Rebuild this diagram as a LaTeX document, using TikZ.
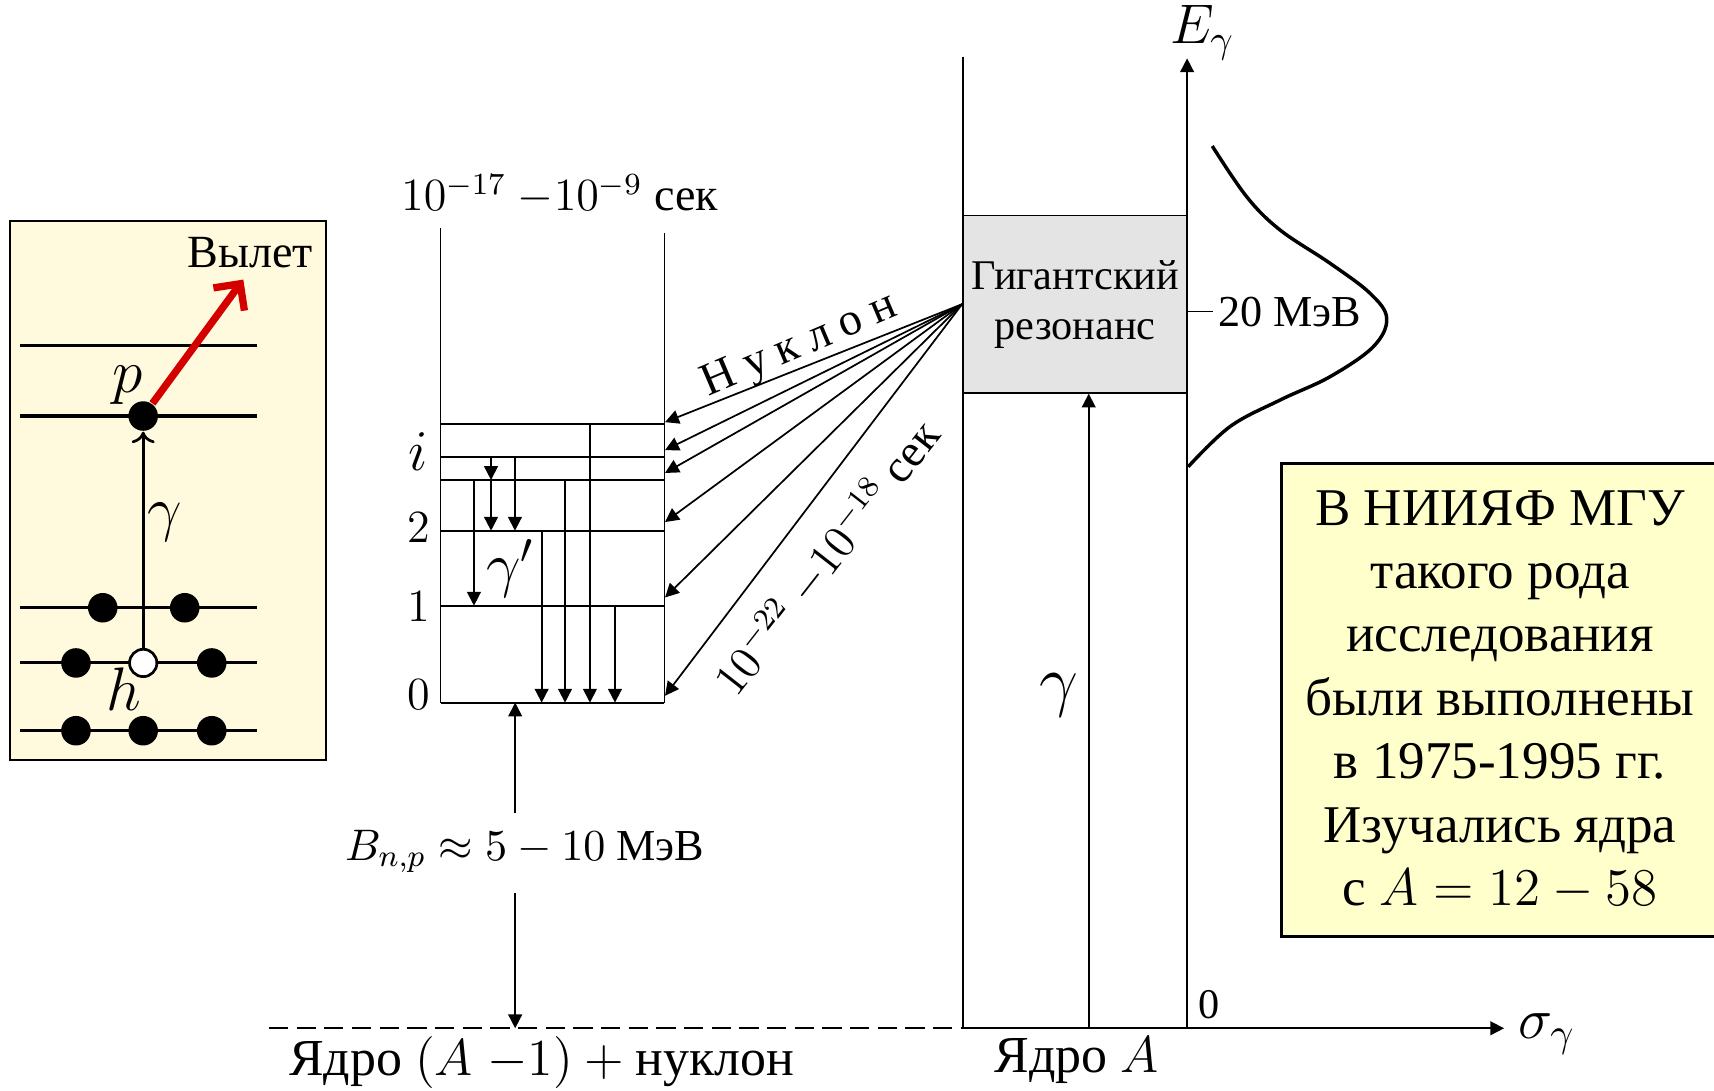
\RequirePackage{fix-cm}
\documentclass[tikz,border=0pt]{standalone}
\usepackage{fontspec}
\setmainfont{Liberation Serif}
\usetikzlibrary{arrows.meta,positioning}

\definecolor{gelblinks}{RGB}{255,250,222}
\definecolor{gelbrechts}{RGB}{255,255,204}
\definecolor{resgrau}{RGB}{228,228,228}
\definecolor{vrot}{RGB}{212,0,0}

\newcommand{\schrift}[2]{\fontsize{#1}{#2}\selectfont}

\tikzset{
    zustand/.style={line width=0.8pt},
    voll/.style={circle, fill=black, inner sep=0pt, minimum size=0.27cm},
    leer/.style={circle, draw=black, fill=white, line width=0.7pt, inner sep=0pt, minimum size=0.25cm},
    txt/.style={inner sep=0pt, font=\schrift{12pt}{14pt}},
    gross/.style={inner sep=0pt, font=\schrift{16pt}{18pt}},
    unten/.style={inner sep=0pt, font=\schrift{13.5pt}{16pt}},
}

\begin{document}
\begin{tikzpicture}[x=0.01cm, y=-0.01cm, line width=0.45pt, >={Triangle[length=3.6pt,width=3.6pt]}]

    % Rahmen des Bildes
    \useasboundingbox (0,0) rectangle (1568,998);

    % ---- Schalenmodell (links) ----
    \draw[fill=gelblinks, line width=0.6pt] (9,202) rectangle (298,695);
    \foreach \y in {316,380.6,556,606.5,668.5}
        \draw[zustand] (18.3,\y) -- (235.4,\y);

    % Nukleonen und Loch
    \node[voll] (pdot) at (131,380.6) {};
    \node[voll] (a1) at (94,556) {};
    \node[voll] (a2) at (169,556) {};
    \node[voll] (b1) at (69.5,606.5) {};
    \node[leer] (loch) at (131,606.5) {};
    \node[voll] (b3) at (193.7,606.5) {};
    \foreach \x/\n in {69.5/c1, 131/c2, 193.7/c3}
        \node[voll] (\n) at (\x,668.5) {};

    % Anregung durch gamma, Vylet in Rot
    \draw[line width=0.7pt, -{To[length=3pt,width=6pt]}] (loch) -- (pdot);
    \coordinate (raus) at (222.6,255.8);
    \draw[vrot, line width=1.9pt, -{Straight Barb[length=5pt,width=10pt]}] (pdot) -- (raus);

    \node[txt] (vylet) at (228.7,231) {Вылет};
    \node[gross] (plab) at (117,352) {$p$};
    \node[gross] (hlab) at (113,630) {$h$};
    \node[gross] (glab) at (151,478) {$\gamma$};

    % ---- Niveauschema (Mitte) ----
    \node[txt] (tzerf) at (512,178) {$10^{-17}$ $-10^{-9}$ сек};
    \coordinate (lo) at (403,208.5);
    \coordinate (ro) at (607.8,213.3);
    \draw (lo) -- (403,642.8);
    \draw (ro) -- (607.8,642.8);

    % Niveaus 0,1,2,...,i
    \foreach \n/\y in {0/642.8, 1/554.1, 2/485.5, 3/439.1, 4/417.8, 5/388.2} {
            \coordinate (lev\n) at (403,\y);
            \coordinate (rev\n) at (607.8,\y);
            \draw (lev\n) -- (rev\n);
        }
    \node[txt] (n0) at (382.7,635.8) {$0$};
    \node[txt] (n1) at (382.7,555) {$1$};
    \node[txt] (n2) at (382.7,482.4) {$2$};
    \node[txt, font=\schrift{15pt}{17pt}] (ni) at (382.7,413) {$i$};

    % gamma'-Uebergaenge
    \foreach \x/\a/\b in {449.2/4/3, 449.2/3/2, 471.1/4/2, 433.6/3/1,
            495.5/2/0, 516.9/3/0, 539.7/5/0, 562.6/1/0}
        \draw[->] (\x,0 |- lev\a) -- (\x,0 |- lev\b);
    \node[gross] (gstrich) at (467,520) {$\gamma'$};

    % Bindungsenergie
    \coordinate (bo) at (471.3,744);
    \coordinate (bu) at (471.3,817);
    \node[txt, font=\schrift{11.5pt}{14pt}] (bnp) at (480,779) {$B_{n,p} \approx 5 - 10$ МэВ};
    \draw[->] (bo) -- (471.3,0 |- lev0);

    % ---- Gigantischer Resonanz ----
    \coordinate (vo) at (881,51.8);
    \coordinate (vu) at (881,940.7);
    \draw (vo) -- (vu);
    \node[draw, fill=resgrau, minimum width=2.05cm, minimum height=1.62cm, inner sep=0pt,
        align=center, font=\schrift{11pt}{13pt}] (gr) at (983.5,278.3) {Гигантский\\резонанс};

    % Nukleonenemission
    \foreach \n/\y in {5/386.2, 4/411.8, 3/432.7, 2/477.6, 1/546.6, 0/636.5} {
            \coordinate (ziel\n) at (608.4,\y);
            \draw[->] (gr.west) -- (ziel\n);
        }
    \node[txt, rotate=23] (nukl) at (732,317) {Н у к л о н};
    \node[txt, rotate=52] (tres) at (756,510) {$10^{-22}$ $-10^{-18}$ сек};

    % Achsen
    \coordinate (null) at (1086,940.7);
    \coordinate (eoben) at (1086,53.4);
    \coordinate (sende) at (1376,940.7);
    \draw[->] (null) -- (eoben);
    \draw[dashed, dash pattern=on 5pt off 2.2pt] (246,940.7) -- (vu);
    \draw[->] (vu) -- (sende);
    \draw[->] (bu) -- (471.3,0 |- vu);
    \node[txt, font=\schrift{14.5pt}{16pt}] (elab) at (1100,30) {$E_\gamma$};
    \node[txt, font=\schrift{15pt}{17pt}] (slab) at (1415,946) {$\sigma_\gamma$};
    \node[txt, font=\schrift{11pt}{13pt}] (nlab) at (1106,919) {0};

    % Photon
    \coordinate (gfuss) at (996,940.7);
    \draw[->] (gfuss) -- (996,0 |- gr.south);
    \node[txt, font=\schrift{18pt}{20pt}] (gammaA) at (969,636) {$\gamma$};

    % Wirkungsquerschnitt
    \coordinate (tick) at (1110,285);
    \draw (1086,285) -- (tick);
    \node[txt, font=\schrift{11.5pt}{13pt}] (mev) at (1180,285) {20 МэВ};
    \draw[line width=0.9pt] plot[smooth, tension=0.6] coordinates {
            (1109,133.6) (1140.5,180) (1171,210.4) (1216.8,240.9) (1253.3,268.3)
            (1268.6,291.2) (1256.4,317.1) (1216.8,344.6) (1171,366) (1125.2,390.3)
            (1087,427)};

    % Beschriftung unten
    \node[unten] (kern1) at (495.5,972) {Ядро $(A\;{-}1) + {}$нуклон};
    \node[unten] (kernA) at (985,970) {Ядро $A$};

    % ---- Kasten rechts ----
    \node[draw, fill=gelbrechts, line width=0.8pt, minimum width=3.995cm, minimum height=4.33cm,
        inner sep=0pt, align=center, font=\schrift{13.8pt}{16.5pt}] (info) at (1372.25,640.5)
        {В НИИЯФ МГУ\\ такого рода\\ исследования\\ были выполнены\\ в 1975-1995 гг.\\
            Изучались ядра\\ с $A = 12 - 58$};

\end{tikzpicture}
\end{document}
